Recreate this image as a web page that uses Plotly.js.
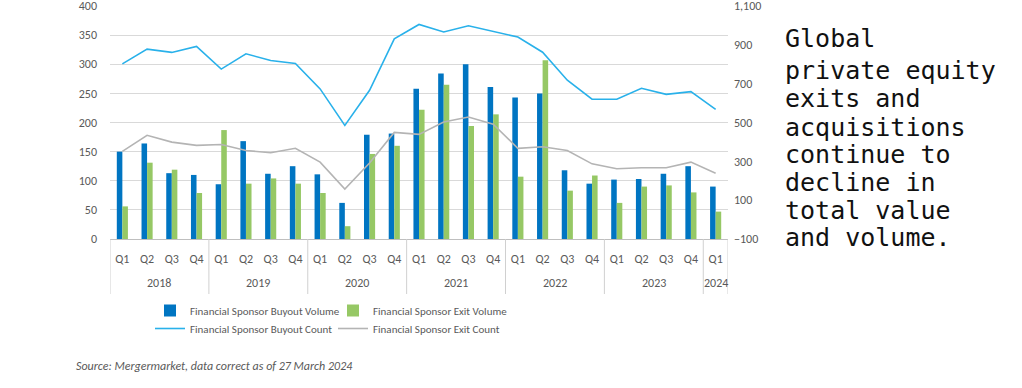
<!DOCTYPE html>
<html>
<head>
<meta charset="utf-8">
<script src="https://cdn.plot.ly/plotly-3.0.1.min.js"></script>
<style>
html,body{margin:0;padding:0;background:#fff;}
#chart{width:1022px;height:388px;}
</style>
</head>
<body>
<div id="chart"></div>
<script>
const years = ['2018','2018','2018','2018','2019','2019','2019','2019','2020','2020','2020','2020','2021','2021','2021','2021','2022','2022','2022','2022','2023','2023','2023','2023','2024'];
const quarters = ['Q1','Q2','Q3','Q4','Q1','Q2','Q3','Q4','Q1','Q2','Q3','Q4','Q1','Q2','Q3','Q4','Q1','Q2','Q3','Q4','Q1','Q2','Q3','Q4','Q1'];
const buyoutVolume = [150,164,113,110, 94,168,112,125, 111,62,179,181, 258,284,300,261, 243,250,118,95, 102,103,112,125, 90];
const exitVolume = [56,131,119,79, 187,95,104,95, 79,22,146,160, 222,265,194,214, 107,307,83,109, 62,90,92,80, 47];
const buyoutCount = [802,878,861,892, 775,854,819,804, 673,485,666,931, 1005,966,998,967, 940,862,718,620, 620,676,645,659, 568];
const exitCount = [351,434,399,382, 387,356,344,367, 296,157,291,449, 439,503,528,491, 367,375,356,287, 262,267,267,296, 239];
const noteLines = ['Global','private equity','exits and','acquisitions','continue to','decline in','total value','and volume.'];
const sourceText = 'Source: Mergermarket, data correct as of 27 March 2024';

const cats = years.map((y, i) => y + ' ' + quarters[i]);
const FONT = 'Carlito, Lato, sans-serif';
const GRAY = '#595959';

const traces = [
  {type:'bar', name:'Financial Sponsor Buyout Volume', x:cats, y:buyoutVolume, marker:{color:'#0075C2'}, yaxis:'y', legend:'legend'},
  {type:'bar', name:'Financial Sponsor Exit Volume', x:cats, y:exitVolume, marker:{color:'#96C865'}, yaxis:'y', legend:'legend'},
  {type:'scatter', mode:'lines', name:'Financial Sponsor Buyout Count', x:cats, y:buyoutCount, line:{color:'#29B1EA', width:1.6}, yaxis:'y2', legend:'legend2'},
  {type:'scatter', mode:'lines', name:'Financial Sponsor Exit Count', x:cats, y:exitCount, line:{color:'#B4B4B4', width:1.6}, yaxis:'y2', legend:'legend2'}
];

const yTop = 6, yBot = 239, xL = 110, xR = 728;
const ph = yBot - yTop, pw = xR - xL;
function py(Y){ return (yBot - Y) / ph; }
function px(X){ return (X - xL) / pw; }

// year groups from the data
const groups = [];
years.forEach((y, i) => {
  if (!groups.length || groups[groups.length-1].year !== y) groups.push({year:y, start:i, end:i});
  else groups[groups.length-1].end = i;
});

const annotations = noteLines.map((t, i) => ({
  text: t, xref:'paper', yref:'paper', x: px(783), y: py([38,70,98,127,154,182,210,237][i]),
  xanchor:'left', yanchor:'middle', showarrow:false,
  font:{family:'"DejaVu Sans Mono", monospace', size:25, color:'#111'}
}));
groups.forEach(g => annotations.push({
  text: g.year, xref:'x', yref:'paper', x:(g.start + g.end) / 2, y: py(283),
  xanchor:'center', yanchor:'middle', showarrow:false,
  font:{family:FONT, size:12, color:GRAY}
}));
annotations.push({
  text: sourceText, xref:'paper', yref:'paper', x: px(74), y: py(366),
  xanchor:'left', yanchor:'middle', showarrow:false,
  font:{family:FONT, size:12, color:GRAY, style:'italic'}
});

const shapes = [];
groups.forEach(g => {
  shapes.push({type:'line', xref:'x', yref:'paper', x0:g.start - 0.5, x1:g.start - 0.5, y0:py(239), y1:py(294),
    line:{color:'#D0D0D0', width:1}});
});
const last = groups[groups.length-1];
shapes.push({type:'line', xref:'x', yref:'paper', x0:last.end + 0.5, x1:last.end + 0.5, y0:py(239), y1:py(294),
  line:{color:'#D0D0D0', width:1}});

const legendBase = {orientation:'h', x:px(150), xanchor:'left', yanchor:'top',
  entrywidth:138, entrywidthmode:'pixels', itemwidth:30, traceorder:'normal',
  font:{family:FONT, size:11, color:GRAY}, tracegroupgap:0, bgcolor:'rgba(0,0,0,0)'};

const layout = {
  width:1022, height:388,
  margin:{l:xL, r:1022-xR, t:yTop, b:388-yBot, pad:0},
  paper_bgcolor:'#fff', plot_bgcolor:'#fff',
  font:{family:FONT, size:12, color:GRAY},
  barmode:'group', bargap:0.55, bargroupgap:0,
  showlegend:true,
  legend:Object.assign({}, legendBase, {y:py(296)}),
  legend2:Object.assign({}, legendBase, {y:py(314)}),
  xaxis:{type:'category', tickvals:cats, ticktext:quarters, tickangle:0,
    showline:true, linecolor:'#BFBFBF', linewidth:1,
    ticks:'outside', ticklen:9, tickcolor:'rgba(0,0,0,0)',
    tickfont:{family:FONT, size:12, color:GRAY}, showgrid:false, range:[-0.5, cats.length - 0.5]},
  yaxis:{range:[0,400], dtick:50, tick0:0, showgrid:true, gridcolor:'#D9D9D9', gridwidth:1,
    zeroline:false, showline:false, ticks:'', ticklabelstandoff:12, ticklabeloverflow:'allow',
    tickfont:{family:FONT, size:12, color:GRAY}},
  yaxis2:{range:[-100,1100], dtick:200, tick0:-100, overlaying:'y', side:'right',
    showgrid:false, zeroline:false, showline:false, ticks:'', tickformat:',',
    ticklabelstandoff:5, ticklabeloverflow:'allow', tickfont:{family:FONT, size:12, color:GRAY}},
  shapes: shapes,
  annotations: annotations
};

Plotly.newPlot('chart', traces, layout, {displayModeBar:false, staticPlot:true});
</script>
</body>
</html>
